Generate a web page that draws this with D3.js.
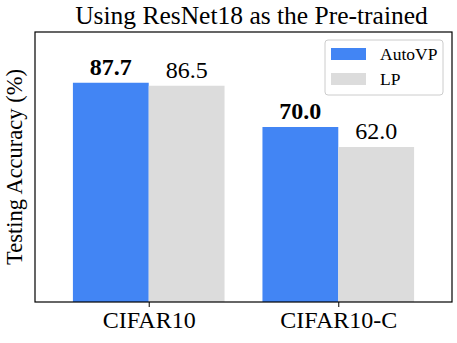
<!DOCTYPE html>
<html><head><meta charset="utf-8">
<script src="https://cdn.jsdelivr.net/npm/d3@7"></script>
<style>body{margin:0;background:#fff}svg{display:block}</style>
</head><body>
<svg id="chart" width="457" height="343"></svg>
<script>
const categories = ["CIFAR10", "CIFAR10-C"];
const seriesNames = ["AutoVP", "LP"];
const autoVP = [87.7, 70.0];
const lp = [86.5, 62.0];
const colors = ["#4285F4", "#DCDCDC"];

const W = 457, H = 343;
const m = {left: 35, right: 5, top: 32, bottom: 41};
const svg = d3.select("#chart");
const font = "'Liberation Serif', 'DejaVu Serif', serif";
const iw = W - m.left - m.right, ih = H - m.top - m.bottom;
const g = svg.append("g").attr("transform", `translate(${m.left},${m.top})`);

const x = d3.scaleLinear().domain([-0.6, 1.6]).range([0, iw]);
const y = d3.scaleLinear().domain([0, 108]).range([ih, 0]);
const bw = 0.4;
const series = [autoVP, lp];

series.forEach((vals, s) => {
  g.selectAll(null).data(vals).enter().append("rect")
    .attr("x", (d, i) => x(i + (s - 1) * bw))
    .attr("width", x(bw) - x(0))
    .attr("y", d => y(d))
    .attr("height", d => ih - y(d))
    .attr("fill", colors[s]);
  g.selectAll(null).data(vals).enter().append("text")
    .attr("x", (d, i) => x(i + (s - 0.5) * bw))
    .attr("y", d => y(d) - 8)
    .attr("text-anchor", "middle")
    .style("font-family", font)
    .style("font-size", "24px")
    .style("font-weight", s === 0 ? "bold" : "normal")
    .text(d => d.toFixed(1));
});

// frame
g.append("rect").attr("x", 0).attr("y", 0).attr("width", iw).attr("height", ih)
  .attr("fill", "none").attr("stroke", "#000").attr("stroke-width", 1.2);

// x axis
const xa = g.append("g").attr("transform", `translate(0,${ih})`)
  .call(d3.axisBottom(x).tickValues([0, 1]).tickFormat(i => categories[i]).tickSize(5).tickPadding(4));
xa.select(".domain").remove();
xa.selectAll("text").style("font-family", font).style("font-size", "24px").attr("fill", "#000");
xa.selectAll("line").attr("stroke", "#000");

// title
svg.append("text").attr("x", m.left + iw / 2 + 8).attr("y", 24).attr("text-anchor", "middle")
  .style("font-family", font).style("font-size", "25.5px").text("Using ResNet18 as the Pre-trained");

// y label
svg.append("text").attr("transform", `translate(22,${m.top + ih / 2}) rotate(-90)`)
  .attr("text-anchor", "middle").style("font-family", font).style("font-size", "22.5px")
  .text("Testing Accuracy (%)");

// legend
const lg = svg.append("g").attr("transform", "translate(325,40)");
lg.append("rect").attr("width", 118).attr("height", 55).attr("rx", 3)
  .attr("fill", "#fff").attr("stroke", "#ccc").attr("stroke-width", 1);
seriesNames.forEach((n, i) => {
  lg.append("rect").attr("x", 6).attr("y", 8 + i * 25).attr("width", 35).attr("height", 12).attr("fill", colors[i]);
  lg.append("text").attr("x", 55).attr("y", 20 + i * 25)
    .style("font-family", font).style("font-size", "17.5px").text(n);
});
</script>
</body></html>
